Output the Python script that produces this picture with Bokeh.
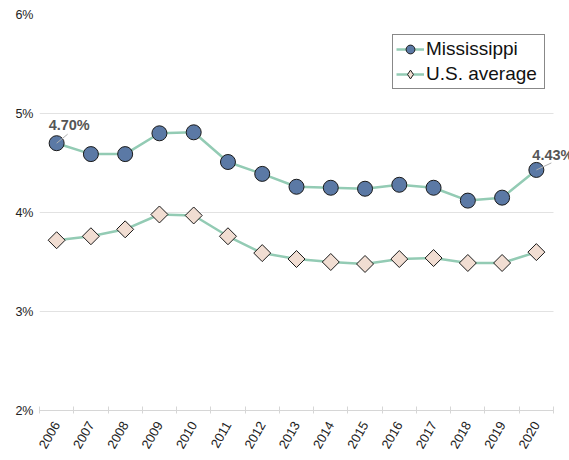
import numpy as np
from bokeh.plotting import figure
from bokeh.models import Range1d, FixedTicker, Label, Legend, LegendItem
from bokeh.embed import file_html
from bokeh.resources import INLINE

years = list(range(2006, 2021))
year_labels = [str(y) for y in years]
mississippi = [4.70, 4.59, 4.59, 4.80, 4.81, 4.51, 4.39, 4.26, 4.25, 4.24, 4.28, 4.25, 4.12, 4.15, 4.43]
us_average = [3.72, 3.76, 3.83, 3.98, 3.97, 3.76, 3.59, 3.53, 3.50, 3.48, 3.53, 3.54, 3.49, 3.49, 3.60]
y_ticks = [2, 3, 4, 5, 6]
y_tick_labels = ["2%", "3%", "4%", "5%", "6%"]
annotated = [0, len(years) - 1]

FONT = "Liberation Sans"
LINE_COLOR = "#93cbb4"
MS_FILL = "#5b79a5"
US_FILL = "#f1ddd2"

W, H = 569, 460
LEFT, TOP, BOTTOM = 39, 14, 50
AXIS_RIGHT = 553  # where the category axis / grid stops
px_per_year = (AXIS_RIGHT - LEFT) / len(years)
x_start = years[0] - 0.5
x_end_axis = years[-1] + 0.5
x_end = x_start + (W - LEFT) / px_per_year  # frame extends to the right edge

p = figure(width=W, height=H, output_backend="svg", toolbar_location=None,
           x_range=Range1d(x_start, x_end), y_range=Range1d(2, 6),
           min_border_left=LEFT, min_border_right=0, min_border_top=TOP,
           min_border_bottom=BOTTOM)
p.outline_line_color = None
p.background_fill_color = "white"

# grid
p.xgrid.grid_line_color = None
p.ygrid.grid_line_color = "#e2e2e2"
p.ygrid.grid_line_width = 1.2
p.ygrid.ticker = FixedTicker(ticks=y_ticks)
p.ygrid.cross_bounds = (x_start, x_end_axis)

# y axis
p.yaxis.ticker = FixedTicker(ticks=y_ticks)
p.yaxis.major_label_overrides = {t: l for t, l in zip(y_ticks, y_tick_labels)}
p.yaxis.axis_line_color = None
p.yaxis.major_tick_line_color = None
p.yaxis.major_tick_out = 0
p.yaxis.major_tick_in = 0
p.yaxis.minor_tick_line_color = None
p.yaxis.minor_tick_out = 0
p.yaxis.major_label_text_font = FONT
p.yaxis.major_label_text_font_size = "12.5px"
p.yaxis.major_label_text_color = "#222222"
p.yaxis.major_label_standoff = 6

# x axis
bounds = [y - 0.5 for y in years] + [years[-1] + 0.5]
p.xaxis.ticker = FixedTicker(ticks=years, minor_ticks=bounds)
p.xaxis.bounds = (x_start, x_end_axis)
p.xaxis.major_label_overrides = {y: l for y, l in zip(years, year_labels)}
p.xaxis.axis_line_color = "#d6d6d6"
p.xaxis.axis_line_width = 1.2
p.xaxis.major_tick_line_color = None
p.xaxis.major_tick_out = 0
p.xaxis.major_tick_in = 0
p.xaxis.minor_tick_line_color = "#d6d6d6"
p.xaxis.minor_tick_in = 4
p.xaxis.minor_tick_out = 3
p.xaxis.major_label_orientation = np.pi / 3
p.xaxis.major_label_text_font = FONT
p.xaxis.major_label_text_font_size = "13px"
p.xaxis.major_label_text_color = "#222222"
p.xaxis.major_label_standoff = 9

# series
ms_line = p.line(years, mississippi, line_color=LINE_COLOR, line_width=2.5)
ms_pts = p.scatter(years, mississippi, marker="circle", size=15, fill_color=MS_FILL,
                   line_color="#1a1a1a", line_width=1)
us_line = p.line(years, us_average, line_color=LINE_COLOR, line_width=2.5)
# diamond glyph (used for the legend key), covered by the rotated squares
us_key = p.scatter(years, us_average, marker="diamond", size=12, fill_color=US_FILL,
                   line_color="#1a1a1a", line_width=1)
us_pts = p.scatter(years, us_average, marker="square", angle=np.pi / 4, size=12,
                   fill_color=US_FILL, line_color="#1a1a1a", line_width=1)

# annotations with short leader lines
px_per_pct = (H - TOP - BOTTOM) / 4
leader = [(11, 9), (15, 7)]
text_off = [(-8, 18), (-4, 15)]
for (i, (lx, ly), (tx, ty)) in zip(annotated, leader, text_off):
    p.segment(x0=[years[i]], y0=[mississippi[i]],
              x1=[years[i] + lx / px_per_year], y1=[mississippi[i] + ly / px_per_pct],
              line_color="#b0b0b0", line_width=1)
    p.add_layout(Label(x=years[i], y=mississippi[i], x_offset=tx, y_offset=ty,
                       text=f"{mississippi[i]:.2f}%", text_font=FONT,
                       text_font_size="14.5px", text_font_style="bold",
                       text_color="#555555", text_baseline="alphabetic", text_align="left"))

legend = Legend(items=[LegendItem(label="Mississippi", renderers=[ms_line, ms_pts]),
                       LegendItem(label="U.S. average", renderers=[us_line, us_key])],
                location=(353, 321))
legend.border_line_color = "#111111"
legend.border_line_width = 1
legend.background_fill_alpha = 1
legend.label_text_font = FONT
legend.label_text_font_size = "19px"
legend.label_text_color = "#111111"
legend.padding = 3
legend.spacing = 3
legend.margin = 0
legend.glyph_width = 28
legend.glyph_height = 22
legend.label_height = 22
legend.label_width = 115
legend.label_standoff = 2
p.add_layout(legend, "center")

open("out.html", "w").write(file_html(p, INLINE))
